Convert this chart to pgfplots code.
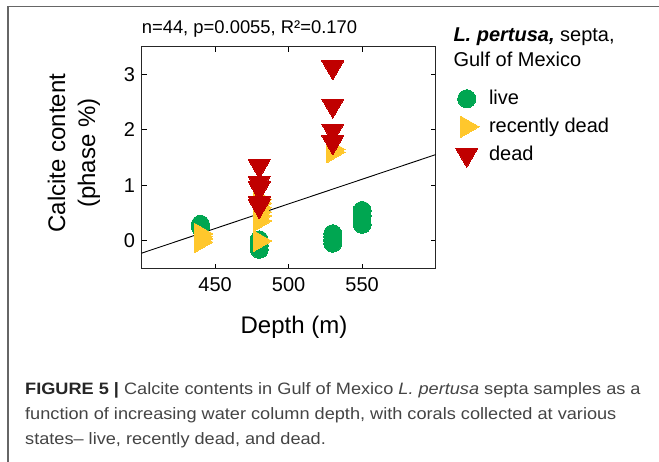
\documentclass[border=0pt]{standalone}
\usepackage{pgfplots}
\pgfplotsset{compat=1.18}
\usepackage{fontspec}
\setmainfont{Liberation Sans}
\newfontfamily\capfont[FakeStretch=1.1]{Liberation Sans}
\definecolor{cgreen}{HTML}{00A651}
\definecolor{cyellow}{HTML}{FFC72C}
\definecolor{cred}{HTML}{C00000}
\definecolor{capgray}{HTML}{444444}
\begin{document}
\begin{tikzpicture}
\useasboundingbox (0,0) rectangle (659pt,-461pt);
\fill[white] (0,0) rectangle (659pt,-461pt);
\draw[line width=1.2pt, black!60] (8pt,-470pt) -- (8pt,-6.5pt) -- (670pt,-6.5pt);
\begin{axis}[
  at={(141.6pt,-268.7pt)}, anchor=south west,
  scale only axis, width=294.1pt, height=222pt,
  xmin=400, xmax=600, ymin=-0.5, ymax=3.5,
  xtick={450,500,550}, ytick={0,1,2,3},
  tick align=inside, xtick pos=both, ytick pos=both,
  xticklabel pos=bottom, yticklabel pos=left,
  major tick length=5pt,
  every tick/.style={black, line width=1pt},
  axis line style={black!85, line width=1.3pt},
  /pgf/number format/assume math mode=true,
  ticklabel style={font=\fontsize{20}{23}\selectfont},
  xticklabel style={yshift=-5pt},
  yticklabel style={xshift=-3pt},
  xlabel={Depth (m)},
  ylabel={Calcite content\\(phase \%)},
  label style={font=\fontsize{24}{30}\selectfont},
  xlabel style={at={(axis description cs:0.518,-0.291)}, anchor=base},
  ylabel style={at={(axis description cs:-0.23,0.521)}, anchor=center, align=center},
  title={n=44, p=0.0055, R²=0.170},
  title style={at={(axis description cs:0,1.0333)}, anchor=base west, inner sep=0pt, font=\fontsize{18.4}{22}\selectfont},
  legend style={at={(axis description cs:1,1)}, anchor=north west, xshift=17pt, yshift=-38.3pt,
    draw=none, fill=none, font=\fontsize{20}{24}\selectfont, row sep=5pt,
    nodes={inner sep=2pt, text height=15pt, text depth=4pt},
    /tikz/every odd column/.append style={column sep=8pt}},
  legend cell align=left,
]
\addplot[only marks, color=cgreen, mark=*, mark size=9pt, mark options={line width=0pt, draw=cgreen, fill=cgreen}] coordinates {
(440,0.30) (440,0.25) (480,0.02) (480,-0.15) (480,-0.08)
(530,0.13) (530,0.08) (530,0.02) (530,-0.04)
(550,0.55) (550,0.45) (550,0.30)};
\addlegendentry{live}
\addplot[only marks, color=cyellow, mark=triangle*, mark size=12.3pt, mark options={line width=0pt, draw=cyellow, fill=cyellow, rotate=-90}] coordinates {
(440,0.13) (440,0.08) (440,0.04) (440,-0.02)
(480,0.0) (480,0.75) (480,0.68) (480,0.60) (480,0.52) (480,0.45) (480,0.36)
(530,1.65) (530,1.60)};
\addlegendentry{recently dead}
\addplot[only marks, color=cred, mark=triangle*, mark size=12.5pt, mark options={line width=0pt, draw=cred, fill=cred, rotate=180}] coordinates {
(480,1.35) (480,1.05) (480,0.95) (480,0.68) (480,0.63)
(530,3.13) (530,2.44) (530,1.99) (530,1.78)};
\addlegendentry{dead}
\addplot[black, line width=0.9pt, forget plot] coordinates {(400,-0.22) (600,1.556)};
\end{axis}
\node[anchor=base west, inner sep=0pt, font=\fontsize{20}{24}\selectfont] at (453.3pt,-41.7pt) {\textbf{\textit{L. pertusa,}} septa,};
\node[anchor=base west, inner sep=0pt, font=\fontsize{20}{24}\selectfont] at (453.3pt,-66pt) {Gulf of Mexico};
\begin{scope}[every node/.style={anchor=base west, inner sep=0pt, text=capgray, font=\capfont\fontsize{16.5}{19}\selectfont}]
\node at (25pt,-394.3pt) {{\bfseries\color{black!85}FIGURE 5 |} Calcite contents in Gulf of Mexico {\itshape L. pertusa} septa samples as a};
\node at (25pt,-419.5pt) {function of increasing water column depth, with corals collected at various};
\node at (25pt,-444.5pt) {states– live, recently dead, and dead.};
\end{scope}
\end{tikzpicture}
\end{document}
